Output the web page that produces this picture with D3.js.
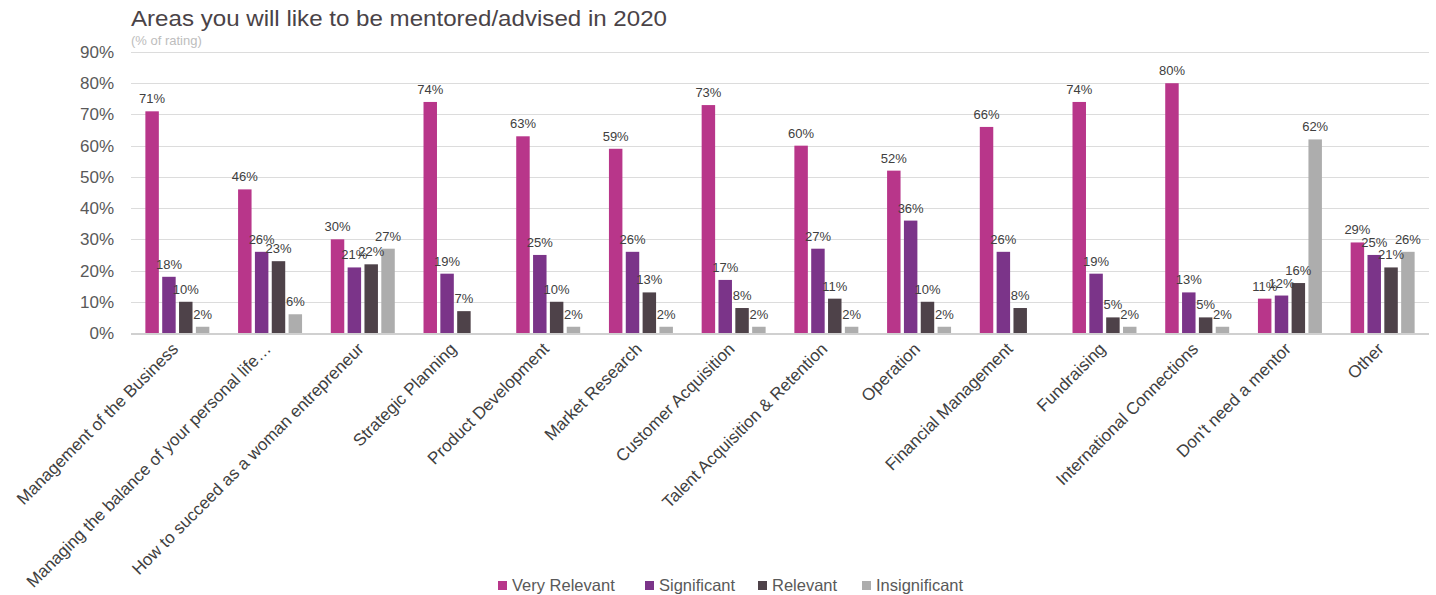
<!DOCTYPE html>
<html>
<head>
<meta charset="utf-8">
<script src="https://cdn.jsdelivr.net/npm/d3@7"></script>
<style>
  html, body { margin: 0; padding: 0; background: #fff; }
  svg { display: block; font-family: "Liberation Sans", Arial, sans-serif; }
</style>
</head>
<body>
<svg id="chart" width="1436" height="595"></svg>
<script>
// Survey: areas respondents want mentoring in, share of ratings per category
const categories = [
  "Management of the Business",
  "Managing the balance of your personal life…",
  "How to succeed as a woman entrepreneur",
  "Strategic Planning",
  "Product Development",
  "Market Research",
  "Customer Acquisition",
  "Talent Acquisition & Retention",
  "Operation",
  "Financial Management",
  "Fundraising",
  "International Connections",
  "Don't need a mentor",
  "Other"
];
const seriesNames = ["Very Relevant", "Significant", "Relevant", "Insignificant"];
const veryRelevant  = [71, 46, 30, 74, 63, 59, 73, 60, 52, 66, 74, 80, 11, 29];
const significant   = [18, 26, 21, 19, 25, 26, 17, 27, 36, 26, 19, 13, 12, 25];
const relevant      = [10, 23, 22,  7, 10, 13,  8, 11, 10,  8,  5,  5, 16, 21];
const insignificant = [ 2,  6, 27, null, 2, 2,  2,  2,  2, null, 2, 2, 62, 26];
const yTicks = [0, 10, 20, 30, 40, 50, 60, 70, 80, 90];

const seriesValues = [veryRelevant, significant, relevant, insignificant];
const colors = ["#B8368A", "#7B3489", "#4E4249", "#ADADAD"];

const svg = d3.select("#chart");
const margin = { left: 131, right: 7, top: 52, bottom: 262 };
const W = 1436, H = 595;
const plotRight = W - margin.right;
const plotBottom = H - margin.bottom;

const x0 = d3.scaleBand().domain(categories)
  .range([margin.left, plotRight])
  .paddingInner(0.31).paddingOuter(0.155);
const x1 = d3.scaleBand().domain(seriesNames)
  .range([0, x0.bandwidth()]).paddingInner(0.2);
const y = d3.scaleLinear().domain([0, 90]).range([plotBottom, margin.top]);

// Title and subtitle
svg.append("text").attr("x", 131).attr("y", 26)
  .attr("font-size", 22).attr("fill", "#4A4347")
  .attr("textLength", 536).attr("lengthAdjust", "spacingAndGlyphs")
  .text("Areas you will like to be mentored/advised in 2020");
svg.append("text").attr("x", 131).attr("y", 45)
  .attr("font-size", 13).attr("fill", "#BDBDBD")
  .text("(% of rating)");

// Gridlines
const grid = svg.append("g");
grid.selectAll("line").data(yTicks.filter(t => t > 0)).join("line")
  .attr("x1", margin.left).attr("x2", plotRight)
  .attr("y1", d => Math.round(y(d)) + 0.5).attr("y2", d => Math.round(y(d)) + 0.5)
  .attr("stroke", "#DCDCDC").attr("stroke-width", 1.2);

// Y axis labels
const yAxis = d3.axisLeft(y).tickValues(yTicks).tickFormat(d => d + "%").tickSize(0).tickPadding(0);
const yg = svg.append("g").attr("transform", `translate(114,0)`).call(yAxis);
yg.select(".domain").remove();
yg.selectAll("text").attr("font-size", 17).attr("fill", "#595959")
  .attr("font-family", "Liberation Sans, Arial, sans-serif");

// Bars
const groups = svg.append("g").selectAll("g").data(categories).join("g")
  .attr("transform", d => `translate(${x0(d)},0)`);

groups.each(function (cat, ci) {
  const g = d3.select(this);
  const vals = seriesNames.map((s, si) => ({ s, si, v: seriesValues[si][ci] }))
    .filter(d => d.v !== null);
  g.selectAll("rect").data(vals).join("rect")
    .attr("x", d => x1(d.s))
    .attr("width", x1.bandwidth())
    .attr("y", d => y(d.v))
    .attr("height", d => y(0) - y(d.v))
    .attr("fill", d => colors[d.si]);
  g.selectAll("text").data(vals).join("text")
    .attr("x", d => x1(d.s) + x1.bandwidth() / 2)
    .attr("y", d => y(d.v) - 8)
    .attr("text-anchor", "middle")
    .attr("font-size", 13).attr("fill", "#404040")
    .text(d => d.v + "%");
});

// Baseline
svg.append("line")
  .attr("x1", margin.left).attr("x2", plotRight)
  .attr("y1", y(0) + 1).attr("y2", y(0) + 1)
  .attr("stroke", "#D0D0D0").attr("stroke-width", 2);

// Category labels, rotated
const xAxis = d3.axisBottom(x0).tickSize(0).tickPadding(0);
const xg = svg.append("g").attr("transform", `translate(0,${y(0)})`).call(xAxis);
xg.select(".domain").remove();
xg.selectAll("text")
  .attr("font-size", 17).attr("fill", "#404040")
  .attr("font-family", "Liberation Sans, Arial, sans-serif")
  .attr("text-anchor", "end")
  .attr("dy", null).attr("y", 0)
  .attr("transform", "translate(2,17) rotate(-45)");

// Legend
const legendX = [498, 645, 758, 862];
const legend = svg.append("g").selectAll("g").data(seriesNames).join("g")
  .attr("transform", (d, i) => `translate(${legendX[i]},581)`);
legend.append("rect").attr("width", 9).attr("height", 9)
  .attr("fill", (d, i) => colors[i]);
legend.append("text").attr("x", 14).attr("y", 9.5)
  .attr("font-size", 16.5).attr("fill", "#595959").text(d => d);
</script>
</body>
</html>
